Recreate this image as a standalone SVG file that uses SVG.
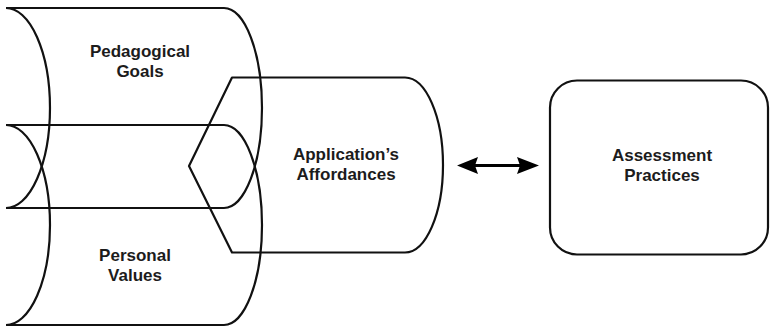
<svg xmlns="http://www.w3.org/2000/svg" width="770" height="329" viewBox="0 0 770 329">
<style>
.s{fill:none;stroke:#111;stroke-width:2.2;stroke-linejoin:round}
.t{font-family:"Liberation Sans",Arial,sans-serif;font-weight:bold;font-size:17px;fill:#1c1c1c;text-anchor:middle}
.c{stroke:#000;stroke-width:3;fill:none}
.h{fill:#000}
</style>
<rect width="770" height="329" fill="#fff"/>
<g id="pedagogical-goals">
<path class="s" d="M6,8 L224,8 A38,100 0 0 1 224,208 L6,208 M6,8 A44,100 0 0 1 6,208"/>
<text class="t" x="140" y="57">Pedagogical</text>
<text class="t" x="140" y="76.5">Goals</text>
</g>
<g id="personal-values">
<path class="s" d="M6,125 L224,125 A38,100 0 0 1 224,325 L6,325 M6,125 A44,100 0 0 1 6,325"/>
<text class="t" x="135" y="260.5">Personal</text>
<text class="t" x="135" y="280.5">Values</text>
</g>
<g id="applications-affordances">
<path class="s" d="M232,77.5 L405,77.5 A38,87.5 0 0 1 405,252.5 L232,252.5 L189,166 Z"/>
<text class="t" x="346" y="160">Application’s</text>
<text class="t" x="346" y="180">Affordances</text>
</g>
<g id="assessment-practices">
<rect class="s" x="550" y="80.5" width="218" height="174" rx="27" ry="27"/>
<text class="t" x="662" y="160.5">Assessment</text>
<text class="t" x="662" y="180.5">Practices</text>
</g>
<g id="connectors">
<line class="c" x1="472" y1="165.5" x2="523" y2="165.5"/>
<path class="h" d="M457,165.5 L478,157 L475,165.5 L478,174 Z"/>
<path class="h" d="M539,165.5 L517,157 L520,165.5 L517,174 Z"/>
</g>
</svg>
